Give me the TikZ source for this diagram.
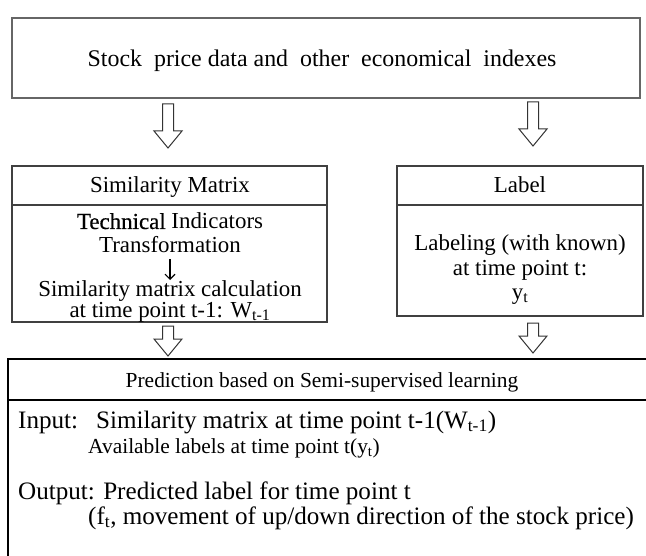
\documentclass[tikz,border=0pt]{standalone}
\usepackage{fontspec}
\setmainfont{Liberation Serif}
\newfontface\darkface{Liberation Serif}[FakeBold=0.5]
\usetikzlibrary{calc,arrows.meta}

\tikzset{
  thinbox/.style={draw=black!75, line width=1.2bp, rectangle, inner sep=0pt},
  thickbox/.style={draw=black, line width=2bp, rectangle, inner sep=0pt},
  txt/.style={inner sep=0pt, anchor=base, font=\fontsize{23}{27}\selectfont},
  bigtxt/.style={txt, font=\fontsize{24}{28}\selectfont},
  headtxt/.style={txt, font=\fontsize{21.5}{26}\selectfont},
  ltxt/.style={txt, anchor=base west, font=\fontsize{25.2}{30}\selectfont},
  smalltxt/.style={ltxt, font=\fontsize{21.5}{25}\selectfont},
  hollow/.style={draw=black!80, line width=1bp, fill=white, line join=miter},
}

% hollow block arrow: #1 = start coordinate, #2 = tip coordinate
\newcommand\blockarrow[2]{%
  \draw[hollow] ($(#1)+(-5.5,0)$) -- ($(#1)+(5.5,0)$)
    -- ($(#2)+(5.5,-17)$) -- ($(#2)+(14,-17)$) -- (#2)
    -- ($(#2)+(-14,-17)$) -- ($(#2)+(-5.5,-17)$) -- cycle;}

\begin{document}
\begin{tikzpicture}[x=1bp, y=-1bp]
  \useasboundingbox (0,0) rectangle (646,556);

  % source data box
  \node[thinbox, draw=black!60, minimum width=628bp, minimum height=80bp] (src) at (326,58) {};
  \node[bigtxt] (srct) at (322,67) {Stock\ \ price data and\ \ other\ \ economical\ \ indexes};

  % similarity matrix box
  \node[thinbox, minimum width=315bp, minimum height=156bp] (sim) at (169.5,244) {};
  \coordinate (simdivl) at (12,205);
  \coordinate (simdivr) at (327,205);
  \draw[black!75, line width=1.2bp] (simdivl) -- (simdivr);
  \node[txt] (simh) at (170,193) {Similarity Matrix};
  \node[txt] (sim1) at (170,229) {{\darkface Technical} Indicators};
  \node[txt] (sim2) at (170,253) {Transformation};
  \coordinate (downs) at (170,259);
  \coordinate (downe) at (170,280);
  \draw[black, line width=1.1bp, -{Straight Barb[length=5bp,width=10bp]}] (downs) -- (downe);
  \node[txt] (sim4) at (170,296) {Similarity matrix calculation};
  \node[txt] (sim5) at (170,317) {at time point t-1: W\textsubscript{t-1}};

  % label box
  \node[thinbox, minimum width=246bp, minimum height=150bp] (lab) at (520,241) {};
  \coordinate (labdivl) at (397,205);
  \coordinate (labdivr) at (643,205);
  \draw[black!75, line width=1.2bp] (labdivl) -- (labdivr);
  \node[txt] (labh) at (520,193) {Label};
  \node[txt] (lab1) at (520,251) {Labeling (with known)};
  \node[txt] (lab2) at (520,275) {at time point t:};
  \node[txt] (lab3) at (520,299) {y\textsubscript{t}};

  % prediction box, running past the page edge
  \begin{scope}
    \clip (0,0) rectangle (646,556);
    \node[thickbox, minimum width=660bp, minimum height=220bp] (pred) at (338,469) {};
  \end{scope}
  \coordinate (preddivl) at (8,400);
  \coordinate (preddivr) at (646,400);
  \draw[black, line width=2bp] (preddivl) -- (preddivr);
  \node[headtxt] (predh) at (322,387) {Prediction based on Semi-supervised learning};
  \node[ltxt] (in1) at (18,428) {Input:};
  \node[ltxt] (in2) at (96,428) {Similarity matrix at time point t-1(W\textsubscript{t-1})};
  \node[smalltxt] (in3) at (88,453) {Available labels at time point t(y\textsubscript{t})};
  \node[ltxt] (out1) at (18,499) {Output: Predicted label for time point t};
  \node[ltxt] (out2) at (88,524) {(f\textsubscript{t}, movement of up/down direction of the stock price)};

  % block arrows between the stages
  \coordinate (a1s) at (168,104);
  \coordinate (a1e) at (168,148);
  \coordinate (a2s) at (533,102);
  \coordinate (a2e) at (533,146);
  \coordinate (a3s) at (168,326);
  \coordinate (a3e) at (168,356);
  \coordinate (a4s) at (533,323);
  \coordinate (a4e) at (533,353);
  \blockarrow{a1s}{a1e}
  \blockarrow{a2s}{a2e}
  \blockarrow{a3s}{a3e}
  \blockarrow{a4s}{a4e}
\end{tikzpicture}
\end{document}
